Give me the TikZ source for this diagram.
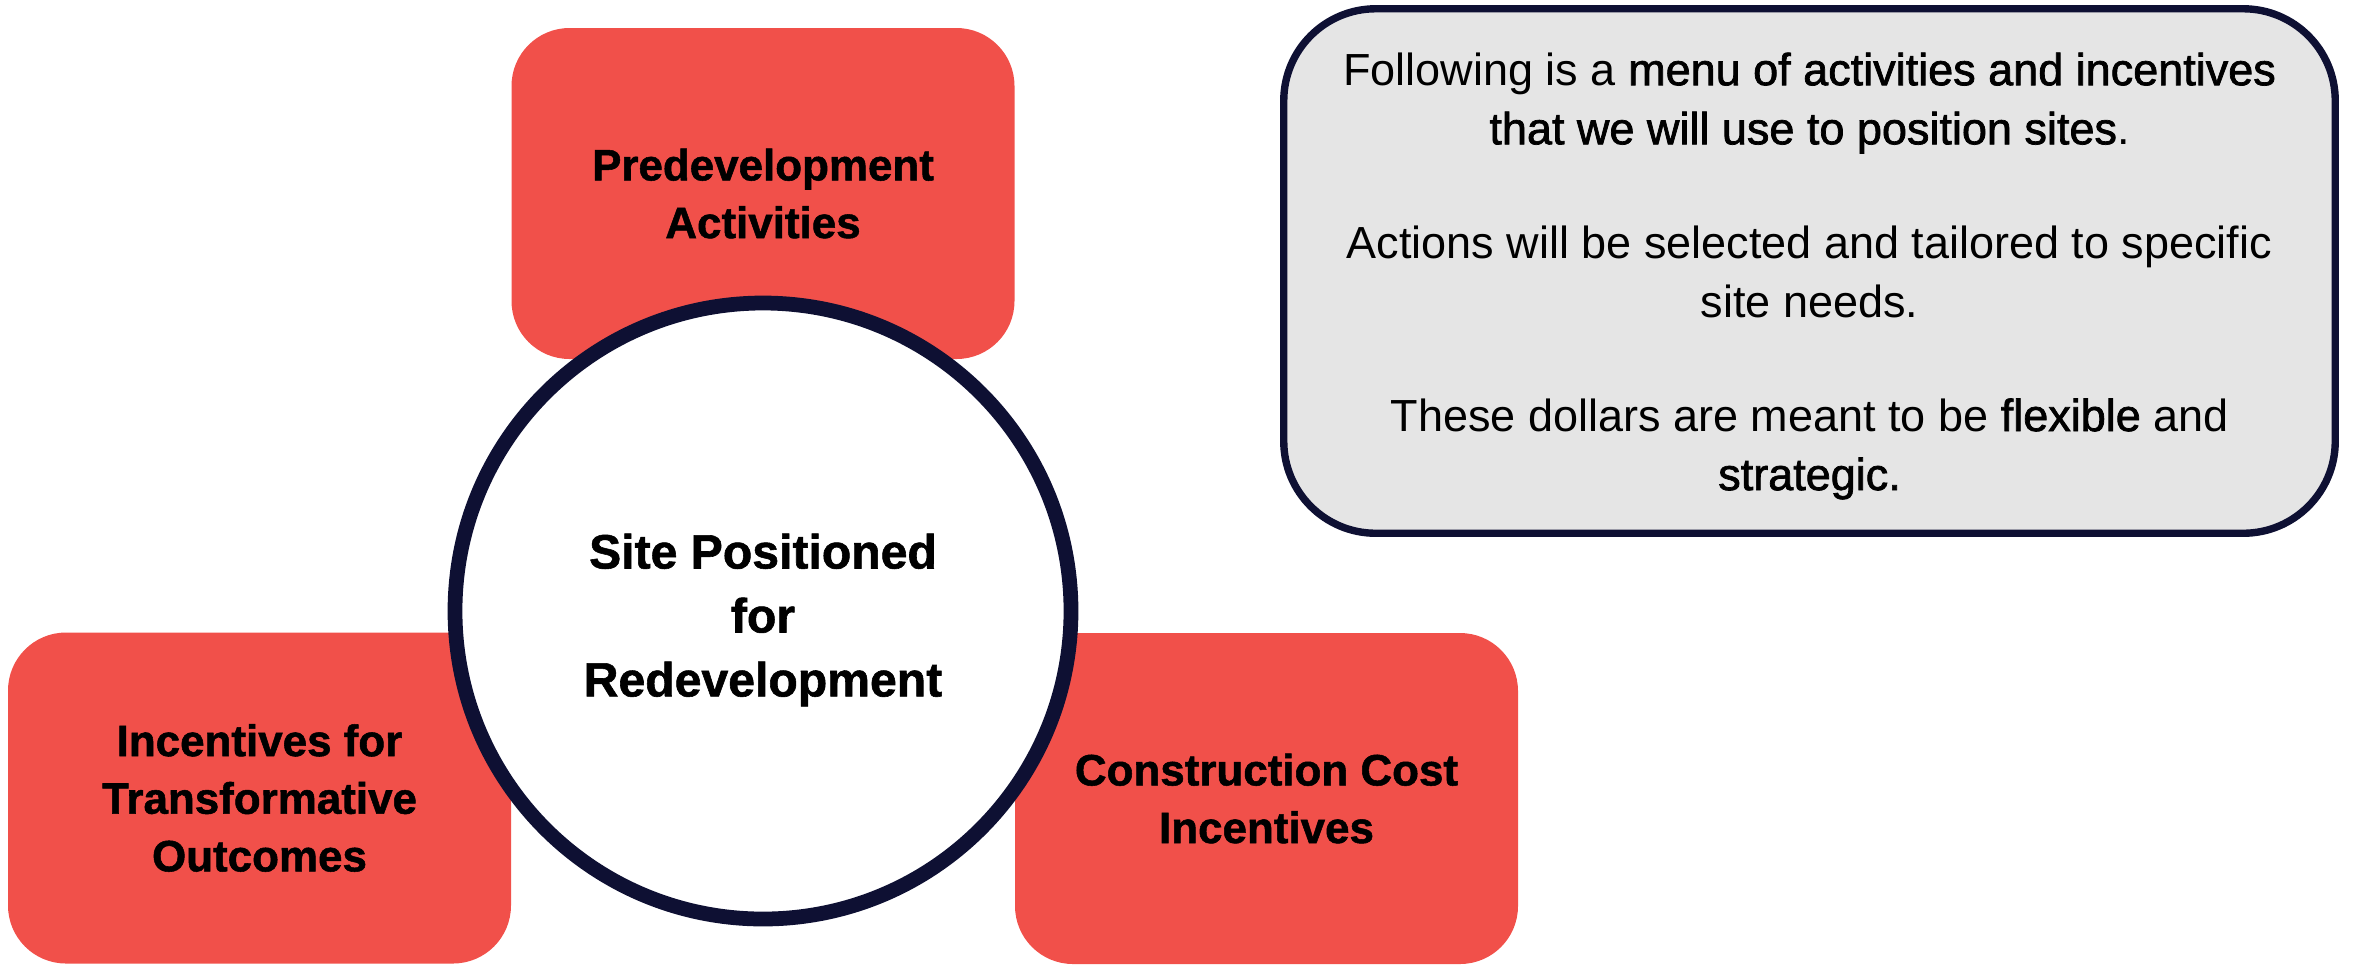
\documentclass[tikz,border=0pt]{standalone}
\usepackage{fontspec}
\setmainfont{Liberation Sans}
\newfontfamily\medfont[FakeBold=1.6]{Liberation Sans}
\newfontfamily\heavyfont[FakeBold=1.2]{Liberation Sans Bold}
\definecolor{redfill}{HTML}{F1504A}
\definecolor{navy}{HTML}{0E1033}
\definecolor{grayfill}{HTML}{E5E5E5}
\tikzset{
  redbox/.style={rectangle, fill=redfill, rounded corners=5.8mm, inner sep=0pt,
    minimum width=50.3mm, minimum height=33.1mm, align=center,
    font=\fontsize{12.5pt}{16.4pt}\selectfont\heavyfont, text=black},
  hub/.style={circle, draw=navy, line width=4.2pt, fill=white, inner sep=0pt,
    minimum size=61.6mm},
  hubtext/.style={align=center, inner sep=0pt,
    font=\fontsize{13.7pt}{18.2pt}\selectfont\heavyfont, text=black},
  infobox/.style={rectangle, draw=navy, line width=2.1pt, fill=grayfill,
    rounded corners=9.2mm, inner sep=0pt, minimum width=105.15mm,
    minimum height=52.45mm},
  infotext/.style={align=center, inner sep=0pt,
    font=\fontsize{12.8pt}{16.8pt}\selectfont, text=black}
}
\begin{document}
\begin{tikzpicture}[x=0.1mm,y=-0.1mm]
\useasboundingbox (0,0) rectangle (2353,965);
\node[redbox] (pre) at (763,193.5) {Predevelopment\\Activities};
\node[redbox] (inc) at (259.5,798) {Incentives for\\Transformative\\Outcomes};
\node[redbox] (con) at (1266.5,798.5) {Construction Cost\\Incentives};
\node[hub] (site) at (763,611) {};
\node[hubtext] (sitetext) at (763,620) {Site Positioned\\for\\Redevelopment};
\node[infobox] (info) at (1809.5,271) {};
\node[infotext] (infotxt) at (1809.5,276) {Following is a {\medfont menu of activities and incentives}\\
{\medfont that we will use to position sites}.\\[15.6pt]
Actions will be selected and tailored to specific\\
site needs.\\[15.6pt]
These dollars are meant to be {\medfont flexible} and\\
{\medfont strategic.}};
\end{tikzpicture}
\end{document}
